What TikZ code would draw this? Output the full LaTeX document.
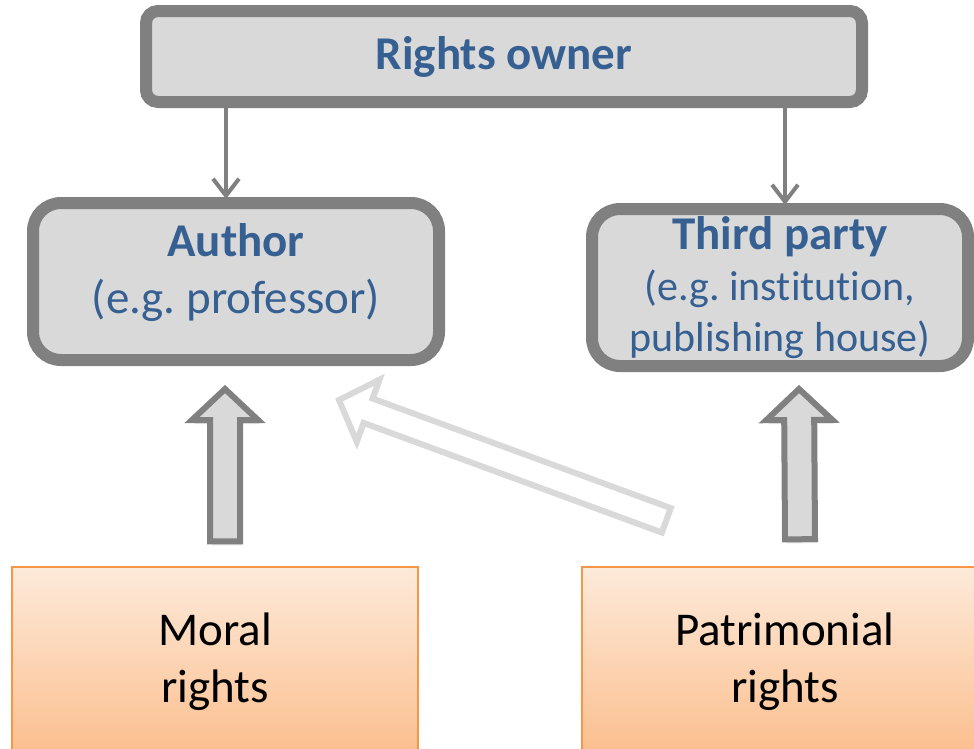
\documentclass[tikz,border=0pt]{standalone}
\usepackage{fontspec}
\setmainfont{Carlito}[Ligatures={NoCommon,NoContextual}]
\usetikzlibrary{arrows.meta,calc,shadows}
\frenchspacing

\definecolor{boxgray}{RGB}{217,217,217}
\definecolor{linegray}{RGB}{128,128,128}
\definecolor{titleblue}{RGB}{54,96,146}
\definecolor{orangeline}{RGB}{247,150,70}
\definecolor{orangetop}{RGB}{253,234,218}
\definecolor{orangebottom}{RGB}{251,190,141}

% block arrow: style, tail, tip, half width of the shaft
\newcommand{\fatarrow}[4]{%
  \coordinate (hb) at ($(#3)!31pt!(#2)$);
  \draw[#1] ($(#2)!#4!90:(#3)$) -- ($(hb)!#4!90:(#3)$) -- ($(hb)!33pt!90:(#3)$)
    -- (#3) -- ($(hb)!33pt!-90:(#3)$) -- ($(hb)!#4!-90:(#3)$) -- ($(#2)!#4!-90:(#3)$) -- cycle;
}

\begin{document}
\begin{tikzpicture}[x=1pt,y=-1pt,
    graybox/.style={draw=linegray,line width=12pt,fill=boxgray,text=titleblue,align=center,
      font=\fontsize{47pt}{57pt}\selectfont,
      drop shadow={shadow xshift=1pt,shadow yshift=-3pt,opacity=.15}},
    rightsbox/.style={draw=orangeline,line width=1.5pt,top color=orangetop,bottom color=orangebottom,
      minimum width=406pt,minimum height=190pt,align=center,font=\fontsize{47pt}{57pt}\selectfont},
    thinarrow/.style={draw=linegray,line width=4pt,-{Straight Barb[length=17pt,width=26pt]}},
    blockarrow/.style={draw=linegray,line width=6pt,fill=boxgray,line join=miter,
      drop shadow={shadow xshift=2pt,shadow yshift=-4pt,opacity=.2}},
    lightarrow/.style={draw=boxgray,line width=6pt,fill=white,line join=miter,
      drop shadow={shadow xshift=2pt,shadow yshift=-4pt,opacity=.12}}]
    \useasboundingbox (0,0) rectangle (974,748);

    % Owner on top
    \node[graybox,minimum width=716pt,minimum height=91pt,rounded corners=12pt] (owner) at (504,56.5)
        {\bfseries Rights owner};
    % The two possible owners
    \node[graybox,minimum width=406pt,minimum height=157pt,rounded corners=28pt] (author) at (236,281.5)
        {{\bfseries Author}\\(e.g. professor)\rule[-26pt]{0pt}{0pt}};
    \node[graybox,minimum width=376pt,minimum height=157pt,rounded corners=28pt,
        font=\fontsize{42pt}{51pt}\selectfont] (third) at (780,287.5)
        {{\fontsize{47pt}{51pt}\selectfont\bfseries Third party}\\(e.g. institution,\\publishing house)};

    % Kinds of rights at the bottom
    \node[rightsbox] (moral) at (215,662) {Moral\\rights};
    \node[rightsbox] (patrimonial) at (785,662) {Patrimonial\\rights};

    % Owner to author and third party
    \draw[thinarrow] ([xshift=-10pt]author.north |- owner.south) -- ([xshift=-10pt,yshift=-2pt]author.north);
    \draw[thinarrow] ([xshift=5pt]third.north |- owner.south) -- ([xshift=5pt,yshift=-2pt]third.north);

    % Block arrows up from the rights
    \fatarrow{blockarrow}{$(moral.north)+(10,-25)$}{$(author.south)+(-11,23)$}{15pt}
    \fatarrow{blockarrow}{$(patrimonial.north)+(15,-27)$}{$(third.south)+(19,17)$}{15pt}
    \fatarrow{lightarrow}{$(patrimonial.north west)+(85,-46)$}{$(author.south east)+(-106,34)$}{13pt}
\end{tikzpicture}
\end{document}
